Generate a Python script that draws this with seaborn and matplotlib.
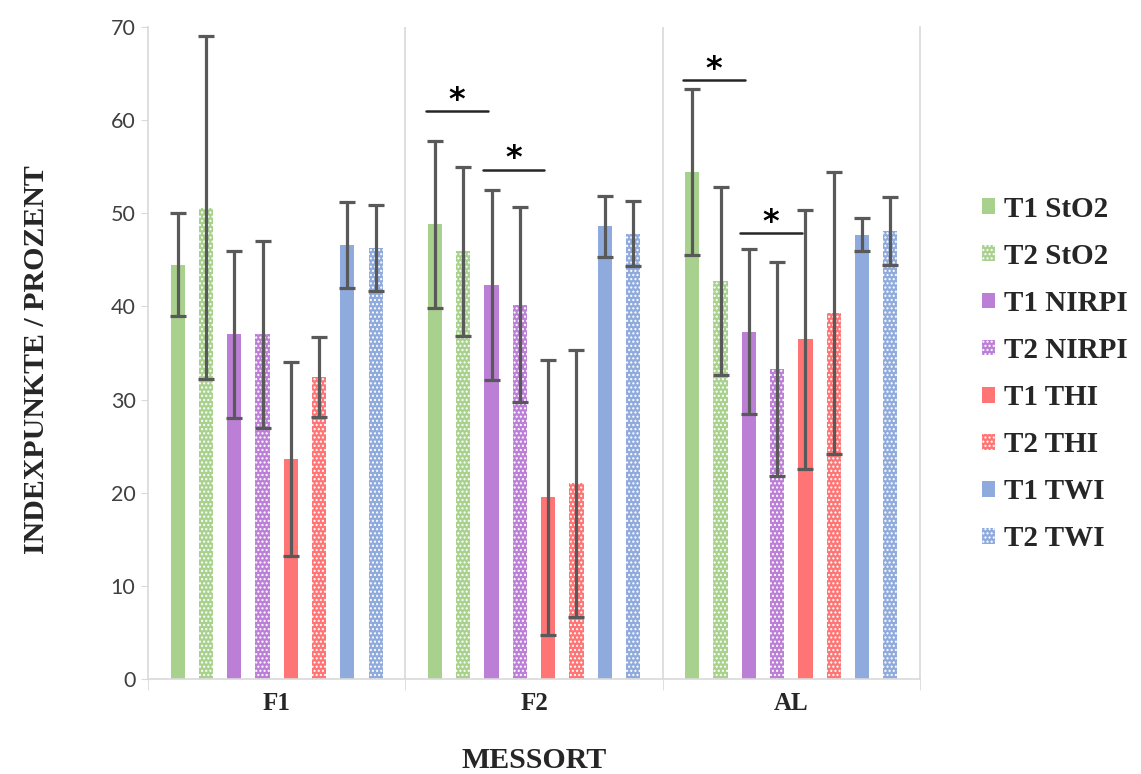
import numpy as np
import pandas as pd
import seaborn as sns
import matplotlib.pyplot as plt
from matplotlib.patches import Patch

# Measurement sites and series
sites = ["F1", "F2", "AL"]
series = ["T1 StO2", "T2 StO2", "T1 NIRPI", "T2 NIRPI",
          "T1 THI", "T2 THI", "T1 TWI", "T2 TWI"]

# Mean values per series (rows) and site (columns F1, F2, AL)
means = {
    "T1 StO2":  [44.5, 48.8, 54.4],
    "T2 StO2":  [50.6, 45.9, 42.7],
    "T1 NIRPI": [37.0, 42.3, 37.3],
    "T2 NIRPI": [37.0, 40.2, 33.3],
    "T1 THI":   [23.6, 19.5, 36.5],
    "T2 THI":   [32.4, 21.0, 39.3],
    "T1 TWI":   [46.6, 48.6, 47.7],
    "T2 TWI":   [46.3, 47.8, 48.1],
}
# Standard deviations
sds = {
    "T1 StO2":  [5.5, 9.0, 8.9],
    "T2 StO2":  [18.4, 9.1, 10.1],
    "T1 NIRPI": [9.0, 10.2, 8.9],
    "T2 NIRPI": [10.0, 10.5, 11.5],
    "T1 THI":   [10.4, 14.8, 13.9],
    "T2 THI":   [4.3, 14.3, 15.1],
    "T1 TWI":   [4.6, 3.3, 1.8],
    "T2 TWI":   [4.6, 3.5, 3.7],
}

# Significance markers: site index, pair of series indices, bar height
sig_site = [1, 1, 2, 2]
sig_pair = [(0, 1), (2, 3), (0, 1), (2, 3)]
sig_level = [61.0, 54.7, 64.3, 47.9]

colors = ["#A9D18E", "#A9D18E", "#BC7FD6", "#BC7FD6",
          "#FF7474", "#FF7474", "#8FAADC", "#8FAADC"]
hatched = [False, True, False, True, False, True, False, True]
HATCH = "...."

rows = []
for s in series:
    for site, m in zip(sites, means[s]):
        rows.append({"site": site, "series": s, "value": m})
df = pd.DataFrame(rows)

sns.set_style("white")
plt.rcParams["hatch.linewidth"] = 1.0
serif = ["Liberation Serif", "DejaVu Serif"]

fig = plt.figure(figsize=(11.41, 7.74), dpi=100)
ax = fig.add_axes([0.1297, 0.1227, 0.8063 - 0.1297, 0.9651 - 0.1227])

sns.barplot(data=df, x="site", y="value", hue="series", order=sites,
            hue_order=series, palette=colors, width=0.88, gap=0.5,
            errorbar=None, legend=False, ax=ax, linewidth=0, saturation=1)

bar_containers = list(ax.containers)
for k, cont in enumerate(bar_containers):
    s = series[k]
    for j, bar in enumerate(cont.patches):
        if hatched[k]:
            bar.set_hatch(HATCH)
            bar.set_edgecolor("white")
            bar.set_linewidth(0)
        xc = bar.get_x() + bar.get_width() / 2
        ax.errorbar(xc, means[s][j], yerr=sds[s][j], fmt="none",
                    ecolor="#595959", elinewidth=2.3, capsize=5.5,
                    capthick=2.3, zorder=5)

# Significance bars with asterisks
for site_i, (a, b), lvl in zip(sig_site, sig_pair, sig_level):
    pa = bar_containers[a].patches[site_i]
    pb = bar_containers[b].patches[site_i]
    xa = pa.get_x() + pa.get_width() / 2
    xb = pb.get_x() + pb.get_width() / 2
    mid = (xa + xb) / 2 + 0.03
    ax.plot([mid - 0.12, mid + 0.12], [lvl, lvl], color="#262626", lw=1.8,
            zorder=6)
    ax.text(mid, lvl - 0.5, "*", ha="center", va="bottom", fontsize=23,
            fontweight="bold", family=["DejaVu Sans"], color="black")

ax.set_xlim(-0.5, 2.5)
ax.set_ylim(0, 70)
ax.set_yticks(np.arange(0, 71, 10))
ax.tick_params(axis="y", labelsize=15.5, length=5, color="#D9D9D9",
               labelcolor="#404040", pad=4, left=True)
for t in ax.get_yticklabels():
    t.set_family(["Lato", "DejaVu Sans"])

ax.set_xticks(range(len(sites)))
ax.set_xticklabels(sites, fontsize=18, fontweight="bold", family=serif)
ax.tick_params(axis="x", length=0, pad=9)
ax.set_xticks([-0.5, 0.5, 1.5, 2.5], minor=True)
ax.tick_params(axis="x", which="minor", length=8, color="#D9D9D9",
               bottom=True)
for xv in [0.5, 1.5]:
    ax.axvline(xv, color="#D9D9D9", lw=1.2, zorder=0)

for side in ["left", "right", "top", "bottom"]:
    ax.spines[side].set_color("#D9D9D9")
    ax.spines[side].set_linewidth(1.2)
ax.spines["top"].set_visible(False)

ax.set_xlabel("MESSORT", fontsize=21.5, fontweight="bold", family=serif)
ax.xaxis.set_label_coords(0.5, -0.104)
ax.set_ylabel("INDEXPUNKTE / PROZENT", fontsize=21.5, fontweight="bold",
              family=serif)
ax.yaxis.set_label_coords(-0.127, 0.49)

handles = []
for s, c, h in zip(series, colors, hatched):
    handles.append(Patch(facecolor=c, edgecolor="white" if h else c,
                         hatch=HATCH if h else None, linewidth=0, label=s))
leg = fig.legend(handles=handles, loc="center left",
                 bbox_to_anchor=(0.8605, 0.5168), frameon=False,
                 borderpad=0, borderaxespad=0,
                 prop={"family": serif, "weight": "bold", "size": 21},
                 handlelength=0.45, handleheight=0.45, handletextpad=0.3,
                 labelspacing=0.69)

fig.savefig("out.png", dpi=100)
